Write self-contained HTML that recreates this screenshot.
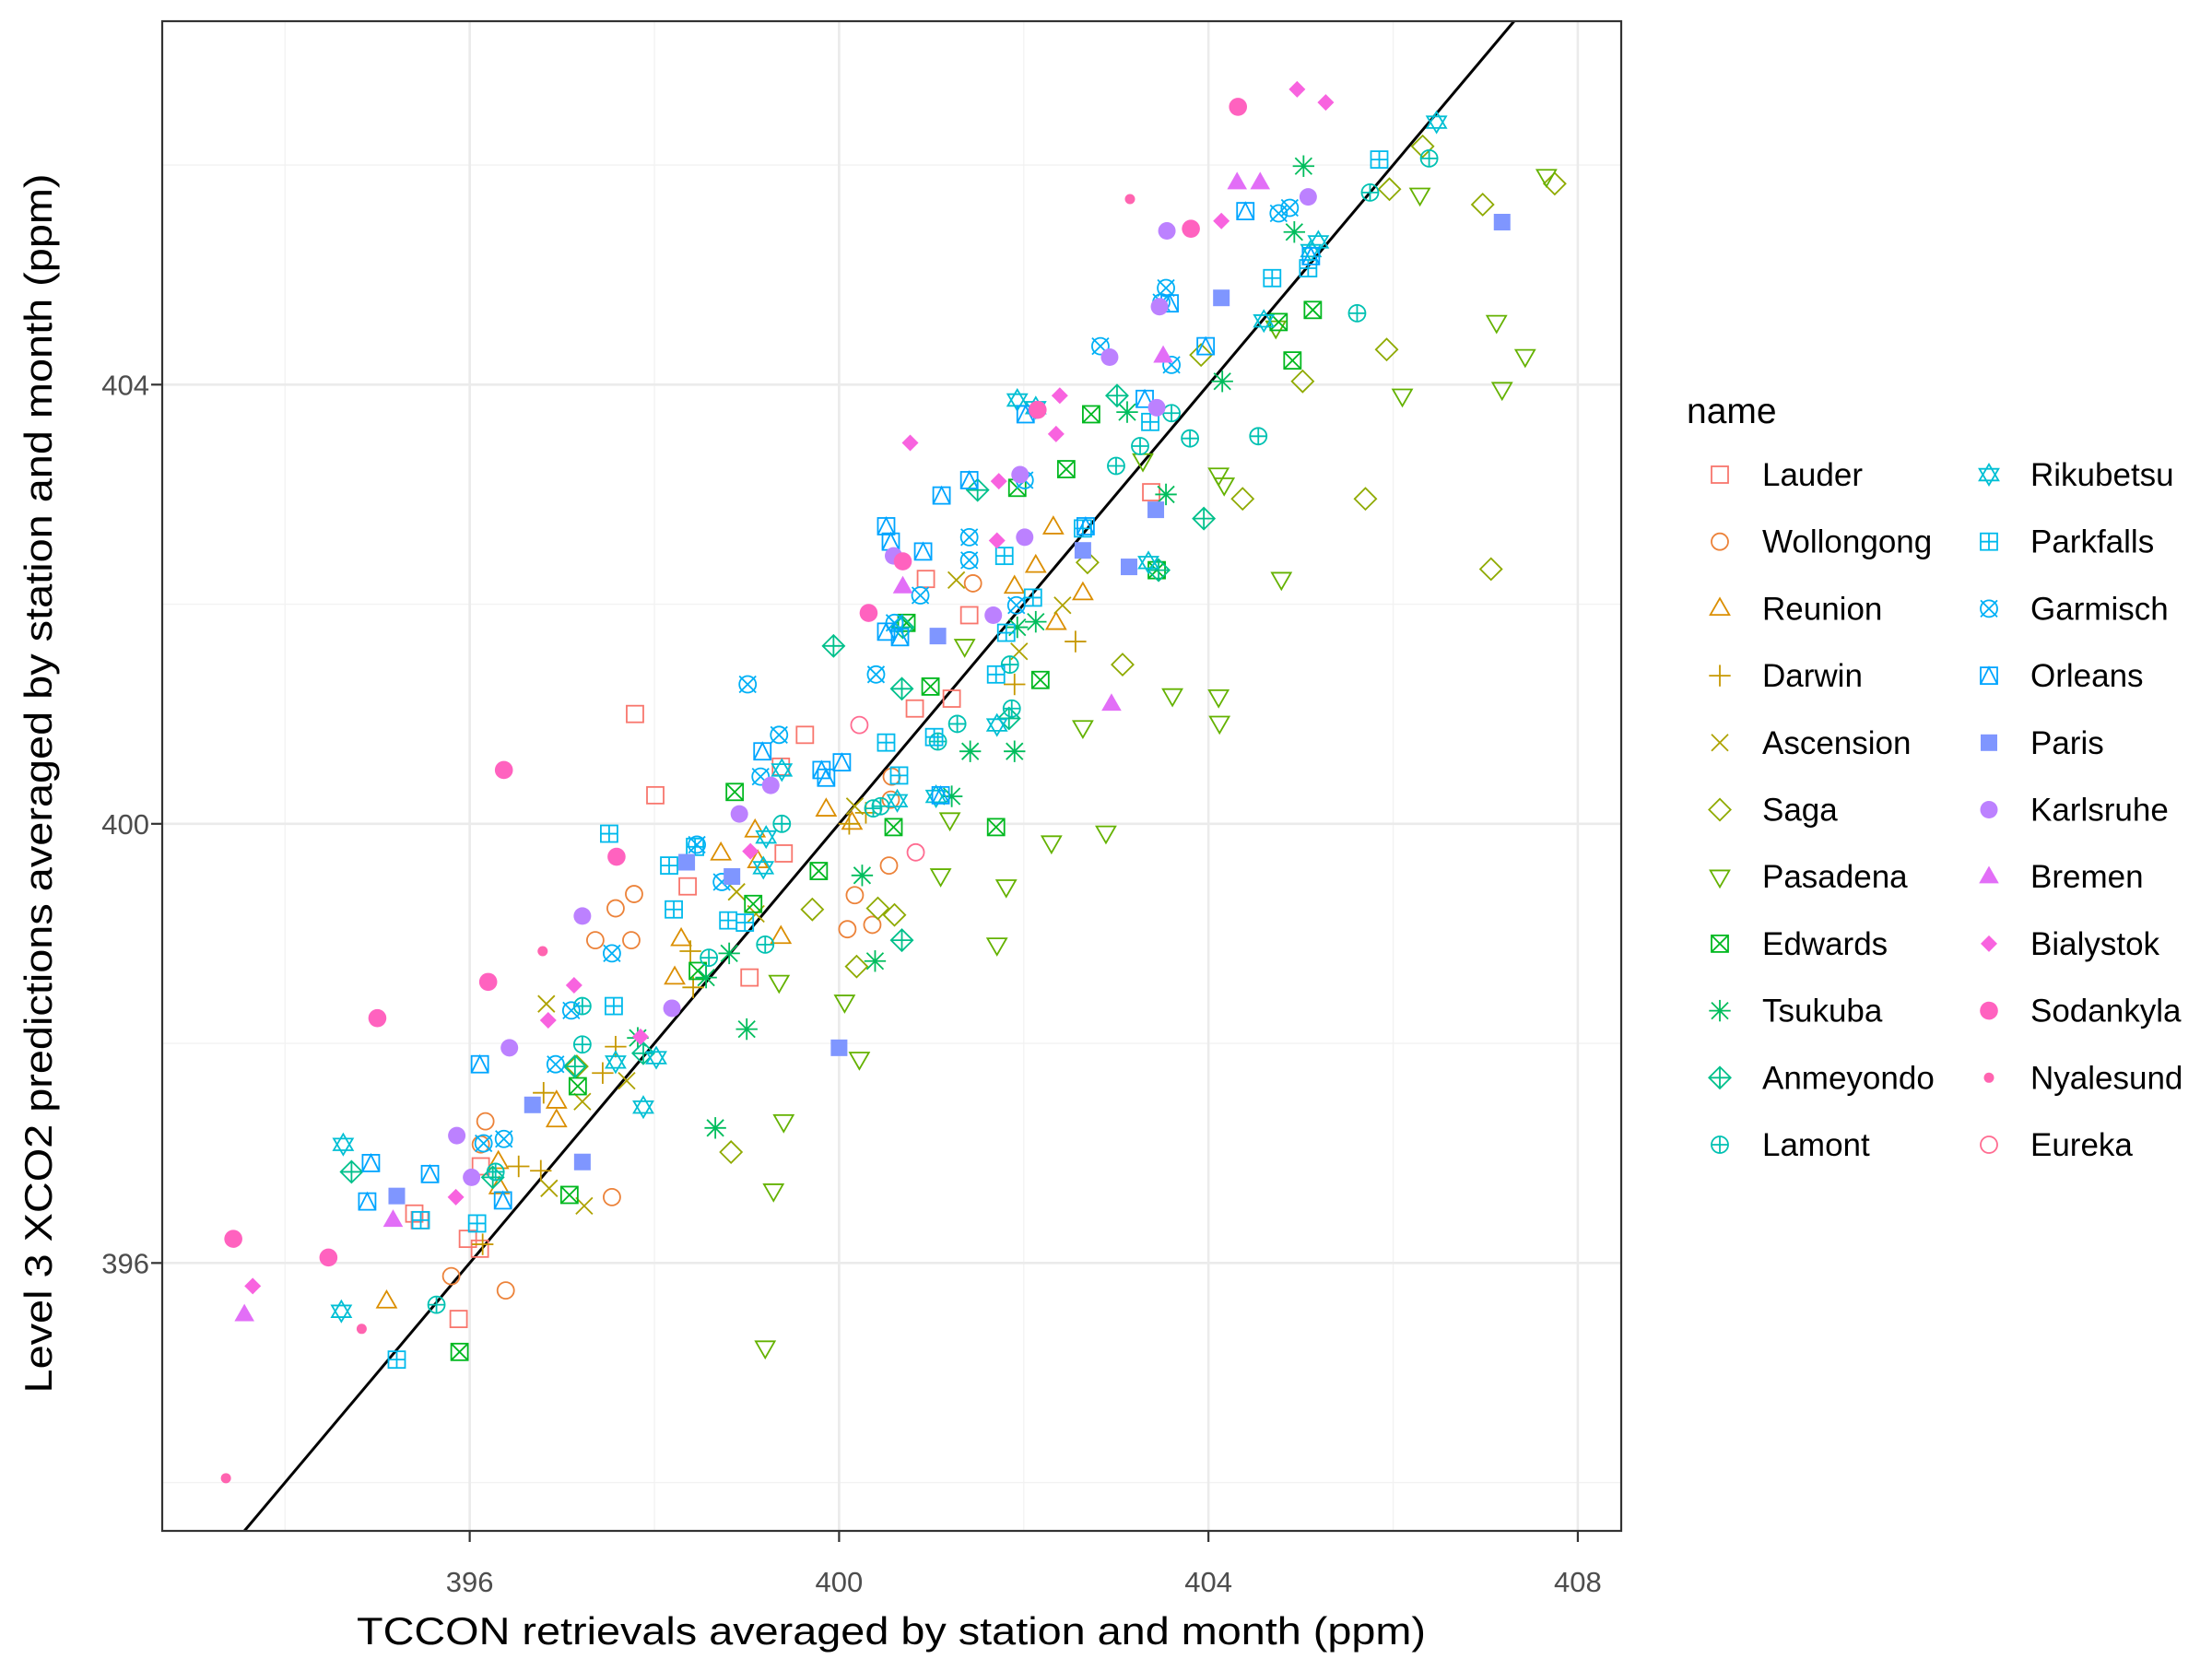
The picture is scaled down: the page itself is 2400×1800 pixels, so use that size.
<!DOCTYPE html>
<html><head><meta charset="utf-8"><style>
html,body{margin:0;padding:0;background:#fff;}
svg{display:block;font-family:"Liberation Sans",Arial,sans-serif;}
</style></head><body>
<svg id="chart" width="2400" height="1800" viewBox="0 0 2400 1800" xmlns="http://www.w3.org/2000/svg">
<rect x="0" y="0" width="2400" height="1800" fill="#fff"/>
<g id="grid"></g>
<g id="line"></g>
<g id="points"></g>
<rect x="176" y="23" width="1583" height="1638" fill="none" stroke="#333" stroke-width="2.2"/>
<g id="axes"></g>
<text x="967" y="1784" text-anchor="middle" font-size="42" textLength="1160" lengthAdjust="spacingAndGlyphs">TCCON retrievals averaged by station and month (ppm)</text>
<text transform="translate(56,850) rotate(-90)" text-anchor="middle" font-size="42" textLength="1323" lengthAdjust="spacingAndGlyphs">Level 3 XCO2 predictions averaged by station and month (ppm)</text>
<g id="legend">
<text x="1830" y="459" font-size="39">name</text>
</g>
</svg>
<script>
const xTicks=[396,400,404,408];
const yTicks=[396,400,404];
const xMinor=[394,398,402,406];
const yMinor=[394,398,402,406];
const names=["Lauder","Wollongong","Reunion","Darwin","Ascension","Saga","Pasadena","Edwards","Tsukuba","Anmeyondo","Lamont","Rikubetsu","Parkfalls","Garmisch","Orleans","Paris","Karlsruhe","Bremen","Bialystok","Sodankyla","Nyalesund","Eureka"];
const colors=["#F8766D","#EC8239","#DB8E00","#C79800","#AEA200","#8FAA00","#64B200","#00B81F","#00BD5C","#00C08B","#00C1B2","#00BFD4","#00BAEC","#00B0F6","#00A5FF","#7F96FF","#BC81FF","#E26EF7","#F863DF","#FF62BF","#FF64B0","#FF6C91"];
const shapes=["sq","ci","tu","plus","x","di","td","sqx","ast","dip","cip","star","sqp","cix","sqt","fsq","fci","ftu","fdi","fci2","dot","ci"];
const lauderX=[397.79,398.01,399.63,399.37,395.88,396.11,395.98,395.40,395.46,399.03,399.40,400.94,401.22,400.82,401.41,396.12,398.36,403.38];
const lauderY=[401.0,400.26,400.81,400.52,395.49,396.13,396.22,396.45,396.39,398.60,399.73,402.23,401.14,401.05,401.90,396.88,399.43,403.02];
const wollongongX=[396.17,396.39,395.80,397.54,397.36,397.58,397.78,397.75,400.17,400.09,400.36,400.54,400.57,400.56,401.45,396.12];
const wollongongY=[397.29,395.75,395.88,396.60,398.94,399.23,399.36,398.94,399.35,399.04,399.08,399.62,400.43,400.22,402.19,397.08];
const reunionX=[395.10,396.31,396.94,396.94,398.22,398.29,398.72,399.09,399.37,399.86,400.14,402.13,402.32,402.64,402.35,401.90,396.32,399.12];
const reunionY=[395.65,396.92,397.30,397.47,398.60,398.95,399.73,399.94,398.97,400.13,400.01,402.35,402.70,402.10,401.83,402.16,396.69,399.66];
const darwinX=[396.14,396.80,396.53,396.77,397.58,397.44,398.39,398.42,401.90,402.56,400.11,400.29];
const darwinY=[396.17,397.55,396.88,396.84,397.97,397.73,398.84,398.51,401.27,401.66,400.00,400.10];
const ascensionX=[396.83,397.24,397.22,396.86,401.27,401.95,402.42,398.89,399.10,397.70,400.17];
const ascensionY=[398.36,396.52,397.47,396.68,402.22,401.57,401.99,399.38,399.18,397.66,400.16];
const sagaX=[407.75,406.97,405.96,405.93,405.02,404.37,405.70,407.06,403.07,402.69,400.60,400.42,399.71,400.19,398.83,397.16,406.32,403.92];
const sagaY=[405.83,405.64,405.78,404.32,404.03,402.96,402.96,402.32,401.45,402.38,399.17,399.23,399.22,398.70,397.01,397.79,406.17,404.27];
const pasadenaX=[407.66,407.12,407.43,407.18,406.10,406.29,404.79,403.61,404.11,404.12,404.11,404.17,402.89,402.30,402.64,401.81,401.71,401.20,401.10,400.06,400.22,399.40,399.20,399.29,399.35,401.36,404.73,403.29];
const pasadenaY=[405.90,404.57,404.26,403.96,403.90,405.73,402.23,401.17,401.16,400.92,403.18,403.09,399.92,399.83,400.88,399.43,398.90,400.04,399.53,398.38,397.86,397.29,395.23,396.66,398.56,401.62,404.52,403.31];
const edwardsX=[395.89,397.17,397.08,398.47,398.87,399.07,399.78,400.59,400.99,400.73,401.70,402.18,401.93,402.46,402.73,404.91,405.13,404.76,403.44];
const edwardsY=[395.19,397.61,396.62,398.66,400.29,399.27,399.57,399.97,401.25,401.83,399.97,401.31,403.06,403.23,403.73,404.22,404.68,404.57,402.31];
const tsukubaX=[398.66,399.00,398.56,398.81,400.25,400.39,401.22,401.42,401.90,401.93,402.13,403.12,403.54,404.15,405.03,404.93,397.82];
const tsukubaY=[397.23,398.13,398.60,398.82,399.53,398.75,400.25,400.66,400.66,401.79,401.84,403.75,403.00,404.03,405.99,405.39,398.05];
const anmeyondoX=[394.72,396.25,397.14,397.88,399.94,400.69,400.68,401.50,401.84,403.01,403.46,403.95,400.68];
const anmeyondoY=[396.83,396.78,397.79,397.91,401.62,401.79,401.23,403.04,400.96,403.90,402.31,402.78,398.94];
const lamontX=[395.64,396.28,397.22,397.22,399.20,399.38,400.37,400.45,401.07,401.28,401.85,401.87,403.00,403.26,403.60,403.80,404.54,405.61,406.39,405.75,398.59];
const lamontY=[395.62,396.83,397.99,398.34,398.90,400.00,400.14,400.16,400.75,400.91,401.45,401.05,403.26,403.44,403.74,403.51,403.53,404.65,406.06,405.75,398.78];
const rikubetsuX=[394.63,394.61,397.58,397.88,398.02,399.18,399.38,400.63,401.05,401.71,401.93,402.13,403.35,406.47,405.19,405.11,404.60,399.21];
const rikubetsuY=[397.08,395.56,397.83,397.42,397.87,399.60,400.49,400.21,400.25,400.90,403.86,403.79,402.38,406.39,405.30,405.22,404.58,399.88];
const parkfallsX=[395.21,395.47,396.08,397.51,397.56,398.16,398.21,398.44,398.80,398.98,400.51,400.65,401.03,401.70,401.79,401.81,402.10,402.64,404.69,405.08,405.85,403.37];
const parkfallsY=[395.12,396.39,396.36,399.91,398.34,399.62,399.22,399.79,399.12,399.10,400.74,400.44,400.79,401.36,402.44,401.74,402.06,402.69,404.97,405.06,406.05,403.66];
const garmischX=[396.15,396.37,396.93,397.10,397.54,398.46,398.73,399.01,399.15,399.35,400.40,400.60,400.88,401.41,401.41,401.92,402.01,402.83,403.49,403.54,403.60,404.76,404.88];
const garmischY=[397.09,397.13,397.81,398.30,398.82,399.81,399.47,401.27,400.43,400.81,401.36,401.83,402.08,402.61,402.40,401.99,403.13,404.35,404.75,404.88,404.18,405.56,405.61];
const orleansX=[394.93,394.89,395.57,396.11,396.36,399.86,399.81,400.51,400.56,400.91,400.51,400.66,401.11,401.41,402.02,402.67,403.31,403.58,403.97,404.40,405.11,401.10,399.17,400.03];
const orleansY=[396.91,396.56,396.81,397.81,396.57,400.42,400.49,402.71,402.57,402.48,401.75,401.70,402.99,403.13,403.73,402.71,403.87,404.74,404.35,405.58,405.17,400.26,400.66,400.56];
const parisX=[395.21,396.68,397.22,398.35,398.84,400.00,401.07,402.64,403.14,403.43,404.14,407.18];
const parisY=[396.61,397.44,396.92,399.65,399.52,397.96,401.71,402.49,402.34,402.86,404.79,405.48];
const karlsruheX=[395.86,396.02,396.43,397.22,398.19,398.92,399.26,400.59,401.96,402.01,402.93,403.44,403.55,403.47,405.08,401.67];
const karlsruheY=[397.16,396.78,397.96,399.16,398.32,400.09,400.35,402.44,403.18,402.61,404.25,403.79,405.40,404.71,405.71,401.90];
const bremenX=[393.56,395.17,400.69,402.95,403.51,404.31,404.56];
const bremenY=[395.53,396.39,402.16,401.09,404.26,405.84,405.84];
const bialystokX=[393.65,395.85,396.85,397.13,399.04,400.77,401.71,401.73,402.35,402.39,404.14,404.96,405.27,397.85];
const bialystokY=[395.79,396.60,398.21,398.53,399.75,403.47,402.58,403.12,403.55,403.90,405.49,406.69,406.57,398.06];
const sodankylaX=[393.44,394.47,395.00,396.20,396.37,397.59,400.32,400.69,402.15,403.81,404.32];
const sodankylaY=[396.22,396.05,398.23,398.56,400.49,399.70,401.92,402.39,403.77,405.42,406.53];
const nyalesundX=[393.36,394.83,396.79,403.15];
const nyalesundY=[394.04,395.40,398.84,405.69];
const eurekaX=[400.22,400.83];
const eurekaY=[400.90,399.74];
const seriesX=[lauderX,wollongongX,reunionX,darwinX,ascensionX,sagaX,pasadenaX,edwardsX,tsukubaX,anmeyondoX,lamontX,rikubetsuX,parkfallsX,garmischX,orleansX,parisX,karlsruheX,bremenX,bialystokX,sodankylaX,nyalesundX,eurekaX];
const seriesY=[lauderY,wollongongY,reunionY,darwinY,ascensionY,sagaY,pasadenaY,edwardsY,tsukubaY,anmeyondoY,lamontY,rikubetsuY,parkfallsY,garmischY,orleansY,parisY,karlsruheY,bremenY,bialystokY,sodankylaY,nyalesundY,eurekaY];

const NS="http://www.w3.org/2000/svg";
const PL=176,PR=1759,PT=23,PB=1661;
const XMIN=392.67,XMAX=408.47,YMIN=393.56,YMAX=407.31;
function sx(v){return PL+(v-XMIN)/(XMAX-XMIN)*(PR-PL);}
function sy(v){return PB-(v-YMIN)/(YMAX-YMIN)*(PB-PT);}
function mk(tag,attrs,parent){const e=document.createElementNS(NS,tag);for(const k in attrs)e.setAttribute(k,attrs[k]);parent.appendChild(e);return e;}

const grid=document.getElementById('grid');
xMinor.forEach(v=>{const l=mk('line',{x1:sx(v),x2:sx(v),y1:PT,y2:PB,stroke:'#F2F2F2','stroke-width':1.3},grid);

});
yMinor.forEach(v=>{const l=mk('line',{x1:PL,x2:PR,y1:sy(v),y2:sy(v),stroke:'#F2F2F2','stroke-width':1.3},grid);

});
xTicks.forEach(v=>{const l=mk('line',{x1:sx(v),x2:sx(v),y1:PT,y2:PB,stroke:'#EBEBEB','stroke-width':2.6},grid);

});
yTicks.forEach(v=>{const l=mk('line',{x1:PL,x2:PR,y1:sy(v),y2:sy(v),stroke:'#EBEBEB','stroke-width':2.6},grid);

});

const lo=Math.max(XMIN,YMIN),hi=Math.min(XMAX,YMAX);
const il=mk('line',{x1:sx(lo),y1:sy(lo),x2:sx(hi),y2:sy(hi),stroke:'#000','stroke-width':3},document.getElementById('line'));



function drawShape(shape,cx,cy,col,parent){
  const g=mk('g',{fill:'none',stroke:col,'stroke-width':1.8},parent);
  const r=9;
  const L=(a,b,c,d)=>mk('line',{x1:a,y1:b,x2:c,y2:d},g);
  switch(shape){
    case 'sq': mk('rect',{x:cx-r,y:cy-r,width:2*r,height:2*r},g);break;
    case 'ci': mk('circle',{cx:cx,cy:cy,r:r},g);break;
    case 'tu': mk('polygon',{points:`${cx},${cy-r*1.25} ${cx-r*1.15},${cy+r*0.75} ${cx+r*1.15},${cy+r*0.75}`},g);break;
    case 'td': mk('polygon',{points:`${cx},${cy+r*1.25} ${cx-r*1.15},${cy-r*0.75} ${cx+r*1.15},${cy-r*0.75}`},g);break;
    case 'plus': L(cx-r*1.3,cy,cx+r*1.3,cy);L(cx,cy-r*1.3,cx,cy+r*1.3);break;
    case 'x': L(cx-r,cy-r,cx+r,cy+r);L(cx-r,cy+r,cx+r,cy-r);break;
    case 'di': mk('polygon',{points:`${cx},${cy-r*1.3} ${cx+r*1.3},${cy} ${cx},${cy+r*1.3} ${cx-r*1.3},${cy}`},g);break;
    case 'sqx': mk('rect',{x:cx-r,y:cy-r,width:2*r,height:2*r},g);L(cx-r,cy-r,cx+r,cy+r);L(cx-r,cy+r,cx+r,cy-r);break;
    case 'ast': L(cx-r*1.3,cy,cx+r*1.3,cy);L(cx,cy-r*1.3,cx,cy+r*1.3);L(cx-r,cy-r,cx+r,cy+r);L(cx-r,cy+r,cx+r,cy-r);break;
    case 'dip': mk('polygon',{points:`${cx},${cy-r*1.3} ${cx+r*1.3},${cy} ${cx},${cy+r*1.3} ${cx-r*1.3},${cy}`},g);L(cx-r*1.3,cy,cx+r*1.3,cy);L(cx,cy-r*1.3,cx,cy+r*1.3);break;
    case 'cip': mk('circle',{cx:cx,cy:cy,r:r},g);L(cx-r,cy,cx+r,cy);L(cx,cy-r,cx,cy+r);break;
    case 'cix': mk('circle',{cx:cx,cy:cy,r:r},g);L(cx-r,cy-r,cx+r,cy+r);L(cx-r,cy+r,cx+r,cy-r);break;
    case 'star': mk('polygon',{points:`${cx},${cy-r*1.25} ${cx-r*1.15},${cy+r*0.7} ${cx+r*1.15},${cy+r*0.7}`},g);mk('polygon',{points:`${cx},${cy+r*1.25} ${cx-r*1.15},${cy-r*0.7} ${cx+r*1.15},${cy-r*0.7}`},g);break;
    case 'sqp': mk('rect',{x:cx-r,y:cy-r,width:2*r,height:2*r},g);L(cx-r,cy,cx+r,cy);L(cx,cy-r,cx,cy+r);break;
    case 'sqt': mk('rect',{x:cx-r,y:cy-r,width:2*r,height:2*r},g);mk('polyline',{points:`${cx-r},${cy+r} ${cx},${cy-r} ${cx+r},${cy+r}`},g);break;
    case 'fsq': mk('rect',{x:cx-r,y:cy-r,width:2*r,height:2*r,fill:col,stroke:'none'},g);break;
    case 'fci': mk('circle',{cx:cx,cy:cy,r:r+0.5,fill:col,stroke:'none'},g);break;
    case 'fci2': mk('circle',{cx:cx,cy:cy,r:r+0.8,fill:col,stroke:'none'},g);break;
    case 'ftu': mk('polygon',{points:`${cx},${cy-r*1.3} ${cx-r*1.2},${cy+r*0.8} ${cx+r*1.2},${cy+r*0.8}`,fill:col,stroke:'none'},g);break;
    case 'fdi': mk('polygon',{points:`${cx},${cy-r} ${cx+r},${cy} ${cx},${cy+r} ${cx-r},${cy}`,fill:col,stroke:'none'},g);break;
    case 'dot': mk('circle',{cx:cx,cy:cy,r:5.5,fill:col,stroke:'none'},g);break;
  }
  return g;
}

const pts=document.getElementById('points');
for(let s=0;s<names.length;s++){
  const X=seriesX[s],Y=seriesY[s];
  for(let i=0;i<X.length;i++){
    const g=drawShape(shapes[s],sx(X[i]),sy(Y[i]),colors[s],pts);
    
    
  }
}

const axes=document.getElementById('axes');
xTicks.forEach(v=>{
  const t=mk('line',{x1:sx(v),x2:sx(v),y1:PB,y2:PB+12,stroke:'#333','stroke-width':2.2},axes);
  
  
  const tx=mk('text',{x:sx(v),y:1727,'text-anchor':'middle','font-size':31,fill:'#4D4D4D'},axes);
  tx.textContent=v;
  
  
});
yTicks.forEach(v=>{
  const t=mk('line',{x1:PL-12,x2:PL,y1:sy(v),y2:sy(v),stroke:'#333','stroke-width':2.2},axes);
  
  
  const tx=mk('text',{x:162,y:sy(v)+11,'text-anchor':'end','font-size':31,fill:'#4D4D4D'},axes);
  tx.textContent=v;
  
  
});

const leg=document.getElementById('legend');
names.forEach((n,i)=>{
  const col=Math.floor(i/11),row=i%11;
  const kx=col?2158:1866, lx=col?2203:1912, ky=515+row*72.7;
  const g=drawShape(shapes[i],kx,ky,colors[i],leg);
  
  
  const t=mk('text',{x:lx,y:ky+12,'font-size':35,fill:'#000'},leg);
  t.textContent=n;
  
  
});
</script>
</body></html>
